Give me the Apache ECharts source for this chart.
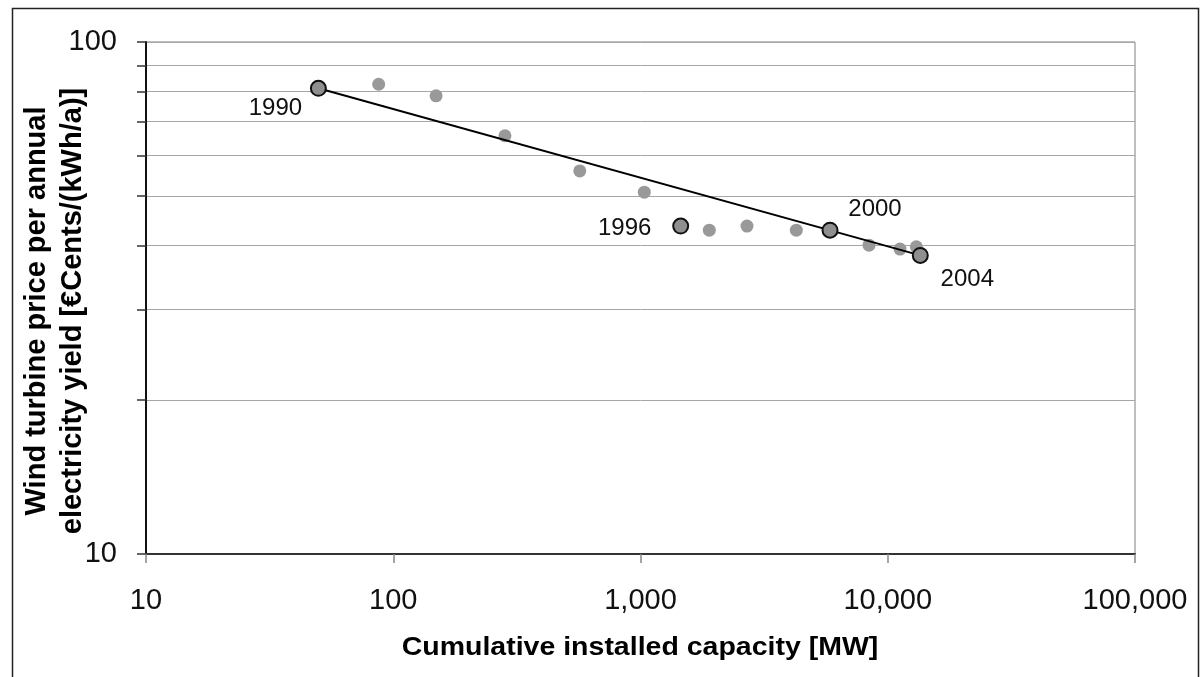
<!DOCTYPE html>
<html>
<head>
<meta charset="utf-8">
<script src="https://cdn.jsdelivr.net/npm/echarts@6/dist/echarts.min.js"></script>
<style>
html,body{margin:0;padding:0;background:#fff;}
#chart{width:1201px;height:677px;}
</style>
</head>
<body>
<div id="chart"></div>
<script>
// ---- data ----
const years    = [1990, 1991, 1992, 1993, 1994, 1995, 1996, 1997, 1998, 1999, 2000, 2001, 2002, 2003, 2004];
const capacity = [49.8, 87.3, 149, 283, 568, 1036, 1454, 1898, 2696, 4267, 5841, 8400, 11210, 13050, 13540];
const price    = [81.2, 82.7, 78.5, 65.6, 56.0, 50.9, 43.7, 42.9, 43.7, 42.9, 42.9, 40.1, 39.4, 39.8, 38.3];
const highlightedYears = [1990, 1996, 2000, 2004];
const trendCapacity = [49.8, 13540];
const trendPrice    = [81.2, 38.3];
const xTickValues = [10, 100, 1000, 10000, 100000];
const yTickValues = [10, 20, 30, 40, 50, 60, 70, 80, 90, 100];
const yLabelValues = [10, 100];
const xTitle = 'Cumulative installed capacity [MW]';
const yTitle = 'Wind turbine price per annual\nelectricity yield [€Cents/(kWh/a)]';

// label placement (style only)
const labelOffsets = {1990: [-43, 20], 1996: [-56, 2], 2000: [45, -21], 2004: [47, 24]};

const FONT = 'Liberation Sans, Arial, sans-serif';

const grayPts = [], hiPts = [];
years.forEach((y, i) => {
  if (highlightedYears.includes(y)) {
    hiPts.push({
      value: [capacity[i], price[i]],
      label: {show: true, formatter: String(y), position: 'inside', offset: labelOffsets[y]}
    });
  } else {
    grayPts.push([capacity[i], price[i]]);
  }
});
const trendData = trendCapacity.map((c, i) => [c, trendPrice[i]]);

const chart = echarts.init(document.getElementById('chart'), null, {renderer: 'canvas'});
chart.setOption({
  backgroundColor: '#fff',
  animation: false,
  textStyle: {fontFamily: FONT},
  graphic: [{
    type: 'rect', left: 10, top: 6, z: 100, silent: true,
    shape: {width: 1186, height: 700},
    style: {fill: 'none', stroke: '#222', lineWidth: 1.5}
  }, {
    type: 'text', x: 640, y: 648, scaleX: 1.14, z: 100, silent: true,
    style: {text: xTitle, font: 'bold 25px Liberation Sans, Arial, sans-serif', fill: '#000',
            align: 'center', verticalAlign: 'middle'}
  }, {
    type: 'text', x: 55, y: 311, rotation: Math.PI / 2, z: 100, silent: true,
    style: {text: yTitle, font: 'bold 29px Liberation Sans, Arial, sans-serif', fill: '#000',
            align: 'center', verticalAlign: 'middle', lineHeight: 36}
  }],
  grid: {
    left: 146, top: 42, right: 66, bottom: 123,
    outerBoundsMode: 'none', containLabel: false,
    show: true, borderColor: '#808080', borderWidth: 1, backgroundColor: 'transparent'
  },
  xAxis: {
    type: 'log', logBase: 10, min: 10, max: 100000,
    axisLine: {show: true, lineStyle: {color: '#333', width: 2}},
    axisTick: {show: true, length: 9, lineStyle: {color: '#888', width: 1.5}, customValues: xTickValues},
    axisLabel: {
      fontSize: 29, color: '#111', margin: 32, fontFamily: FONT,
      customValues: xTickValues,
      formatter: v => Number(v).toLocaleString('en-US')
    },
    splitLine: {show: false},
    minorTick: {show: false}
  },
  yAxis: {
    type: 'log', logBase: 10, min: 10, max: 100,
    axisLine: {show: true, lineStyle: {color: '#111', width: 2}},
    axisTick: {show: true, length: 9, lineStyle: {color: '#333', width: 1.5}, customValues: yTickValues},
    axisLabel: {fontSize: 29, color: '#111', margin: 29, fontFamily: FONT, customValues: yLabelValues},
    splitLine: {show: true, lineStyle: {color: '#a6a6a6', width: 1}},
    minorTick: {show: false}
  },
  series: [
    {
      type: 'scatter', data: grayPts, symbol: 'circle', symbolSize: 13,
      itemStyle: {color: '#999999', opacity: 1}, z: 2
    },
    {
      type: 'line', data: trendData, symbol: 'none', z: 3,
      lineStyle: {color: '#000', width: 2}
    },
    {
      type: 'scatter', data: hiPts, symbol: 'circle', symbolSize: 15, z: 4,
      itemStyle: {color: '#8f8f8f', borderColor: '#111', borderWidth: 2, opacity: 1},
      label: {fontSize: 24, color: '#111', fontFamily: FONT}
    }
  ]
});
</script>
</body>
</html>
